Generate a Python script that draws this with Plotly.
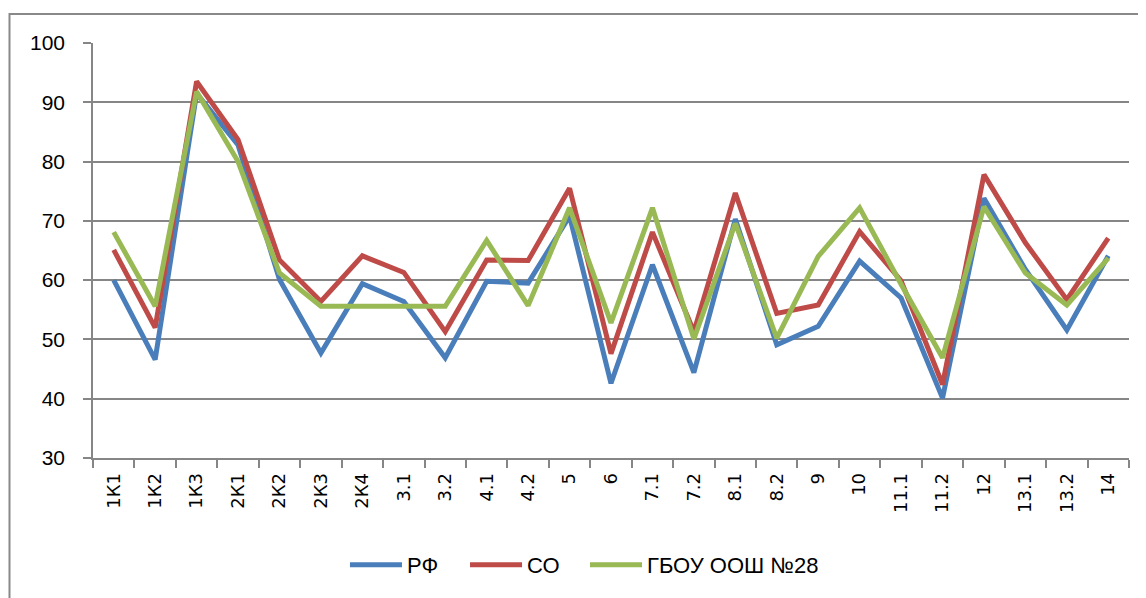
import plotly.graph_objects as go

categories = ["1К1", "1К2", "1К3", "2К1", "2К2", "2К3", "2К4", "3.1", "3.2", "4.1", "4.2",
              "5", "6", "7.1", "7.2", "8.1", "8.2", "9", "10", "11.1", "11.2", "12", "13.1", "13.2", "14"]
rf = [60.0, 46.6, 91.5, 82.8, 60.1, 47.7, 59.4, 56.4, 46.9, 59.8, 59.5,
      70.8, 42.6, 62.6, 44.4, 70.3, 49.1, 52.2, 63.2, 57.0, 40.1, 73.8, 61.8, 51.6, 64.1]
so = [65.1, 52.0, 93.5, 83.7, 63.4, 56.4, 64.1, 61.3, 51.3, 63.4, 63.3,
      75.5, 47.6, 68.1, 51.3, 74.7, 54.4, 55.8, 68.2, 59.9, 42.4, 77.8, 66.3, 56.7, 67.1]
school = [68.1, 55.6, 91.8, 80.0, 61.2, 55.6, 55.6, 55.6, 55.6, 66.7, 55.7,
          72.2, 52.8, 72.2, 50.1, 69.6, 50.2, 64.0, 72.2, 59.3, 46.9, 72.4, 61.2, 55.8, 63.7]
series_names = ["РФ", "СО", "ГБОУ ООШ №28"]
colors = ["#4A7EBB", "#BE4B48", "#98B954"]
y_ticks = [30, 40, 50, 60, 70, 80, 90, 100]
legend_ids = ["legend", "legend2", "legend3"]
legend_x = [0.2432, 0.3591, 0.4749]

fig = go.Figure()
for name, vals, c, lid in zip(series_names, [rf, so, school], colors, legend_ids):
    fig.add_trace(go.Scatter(x=categories, y=vals, mode="lines", name=name, legend=lid,
                             line=dict(color=c, width=5)))

legend_font = dict(family="Liberation Sans Narrow, Liberation Sans", size=22)
legends = {}
for lid, lx in zip(legend_ids, legend_x):
    legends[lid] = dict(orientation="h", x=lx, xanchor="left", y=-0.258, yanchor="middle",
                        font=legend_font, itemwidth=52, bgcolor="rgba(0,0,0,0)")

fig.update_layout(
    width=1146, height=598,
    margin=dict(l=85, r=25, t=35, b=148),
    plot_bgcolor="white", paper_bgcolor="white",
    font=dict(family="Liberation Sans", size=19, color="black"),
    showlegend=True,
    shapes=[dict(type="rect", xref="paper", yref="paper",
                 x0=-0.0806, x1=1.03, y0=-0.36, y1=1.0699,
                 line=dict(color="#898989", width=2), layer="below")],
    **legends,
)
fig.update_xaxes(type="category", tickson="boundaries", ticks="outside", ticklen=8,
                 tickcolor="#868686", tickwidth=1.5, showgrid=False,
                 showline=True, linecolor="#868686", linewidth=1.5,
                 tickangle=-90, tickfont=dict(family="DejaVu Sans", size=18),
                 ticklabelstandoff=6,
                 range=[-0.5, len(categories) - 0.5])
fig.update_yaxes(range=[30, 100], tickvals=y_ticks, ticks="outside", ticklen=8,
                 tickcolor="#868686", tickwidth=1.5, showgrid=True, gridcolor="#868686",
                 gridwidth=1.5, showline=True, linecolor="#868686", linewidth=1.5,
                 zeroline=False, ticklabelstandoff=14,
                 tickfont=dict(family="Liberation Sans Narrow, Liberation Sans", size=21))

fig.write_html("out.html")
